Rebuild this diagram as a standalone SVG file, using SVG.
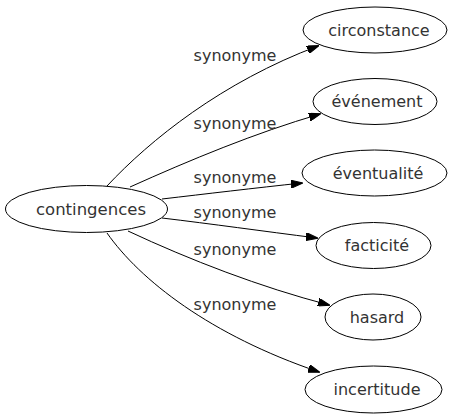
<svg xmlns="http://www.w3.org/2000/svg" width="457" height="419" viewBox="0 0 457 419">
<defs>
<marker id="arr" markerWidth="12" markerHeight="8" refX="11" refY="4" orient="auto" markerUnits="userSpaceOnUse">
<path d="M0,0 L12,4 L0,8 Z" fill="#000" stroke="#000" stroke-width="1"/>
</marker>
</defs>
<style>
.n ellipse{fill:#fff;stroke:#000;stroke-width:1}
text{font-family:"DejaVu Sans",sans-serif;font-size:16px;fill:#333;text-anchor:middle}
.e path{fill:none;stroke:#000;stroke-width:1;marker-end:url(#arr)}
</style>
<rect width="457" height="419" fill="#fff"/>
<g id="edges" class="e">
<path d="M107,186 C150,140 222,82 318,46"/>
<path d="M130,187 C190,160 255,133 320,114"/>
<path d="M162,199 C205,194 255,188 302,183"/>
<path d="M162,218 C212,224 262,231 317,238"/>
<path d="M128,231 C190,260 260,287 329,305"/>
<path d="M107,233 C140,280 210,335 319,372"/>
</g>
<g id="labels">
<text x="235" y="61">synonyme</text>
<text x="235" y="129">synonyme</text>
<text x="235" y="183">synonyme</text>
<text x="235" y="218">synonyme</text>
<text x="235" y="255">synonyme</text>
<text x="235" y="310">synonyme</text>
</g>
<g id="contingences" class="n"><ellipse cx="86.5" cy="209" rx="81" ry="23.5"/><text x="91" y="215" style="font-size:16.5px">contingences</text></g>
<g id="circonstance" class="n"><ellipse cx="375" cy="30" rx="72" ry="23"/><text x="379" y="36">circonstance</text></g>
<g id="evenement" class="n"><ellipse cx="375" cy="101.5" rx="62" ry="23"/><text x="377" y="107">événement</text></g>
<g id="eventualite" class="n"><ellipse cx="374.5" cy="173" rx="72.5" ry="23"/><text x="378" y="179">éventualité</text></g>
<g id="facticite" class="n"><ellipse cx="373.5" cy="245.5" rx="57.5" ry="23"/><text x="377" y="251">facticité</text></g>
<g id="hasard" class="n"><ellipse cx="373" cy="317" rx="48" ry="23"/><text x="377" y="323">hasard</text></g>
<g id="incertitude" class="n"><ellipse cx="373.5" cy="389.5" rx="68.5" ry="23.5"/><text x="377" y="395">incertitude</text></g>
</svg>
